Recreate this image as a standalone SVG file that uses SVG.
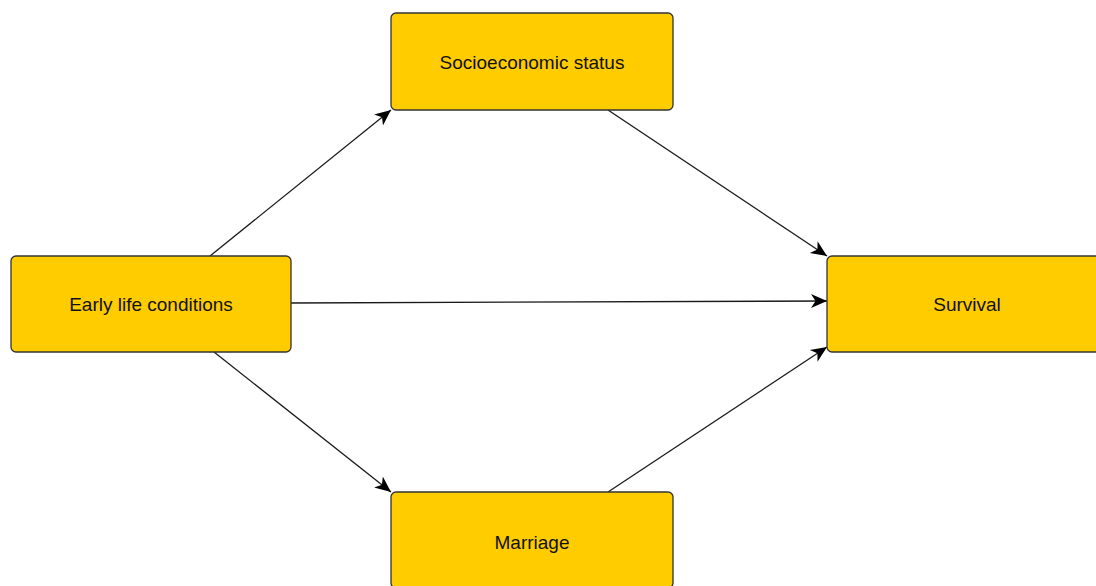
<svg xmlns="http://www.w3.org/2000/svg" width="1096" height="586" viewBox="0 0 1096 586">
<style>
.box{fill:#FFCC00;stroke:#333333;stroke-width:1.3}
.lbl{font-family:"Liberation Sans",Arial,sans-serif;font-size:19px;fill:#111111;text-anchor:middle;dominant-baseline:central}
.edge{stroke:#1a1a1a;stroke-width:1.3;fill:none;marker-end:url(#arr)}
</style>
<defs>
<marker id="arr" markerUnits="userSpaceOnUse" markerWidth="18" markerHeight="16" refX="16" refY="8" orient="auto">
<path d="M0,1 L16,8 L0,15 L4.5,8 Z" fill="#000"/>
</marker>
</defs>
<rect width="1096" height="586" fill="#ffffff"/>
<g id="connectors">
<line class="edge" x1="210" y1="256" x2="391" y2="110"/>
<line class="edge" x1="608" y1="110" x2="827" y2="256"/>
<line class="edge" x1="291" y1="303" x2="827" y2="301"/>
<line class="edge" x1="214" y1="352" x2="391" y2="492"/>
<line class="edge" x1="608" y1="492" x2="827" y2="347"/>
</g>
<g id="ses">
<rect class="box" x="391" y="13" width="282" height="97" rx="5"/>
<text class="lbl" x="532" y="62">Socioeconomic status</text>
</g>
<g id="early">
<rect class="box" x="11" y="256" width="280" height="96" rx="5"/>
<text class="lbl" x="151" y="304">Early life conditions</text>
</g>
<g id="survival">
<rect class="box" x="827" y="256" width="282" height="96" rx="5"/>
<text class="lbl" x="967" y="304">Survival</text>
</g>
<g id="marriage">
<rect class="box" x="391" y="492" width="282" height="96" rx="5"/>
<text class="lbl" x="532" y="542">Marriage</text>
</g>
</svg>
